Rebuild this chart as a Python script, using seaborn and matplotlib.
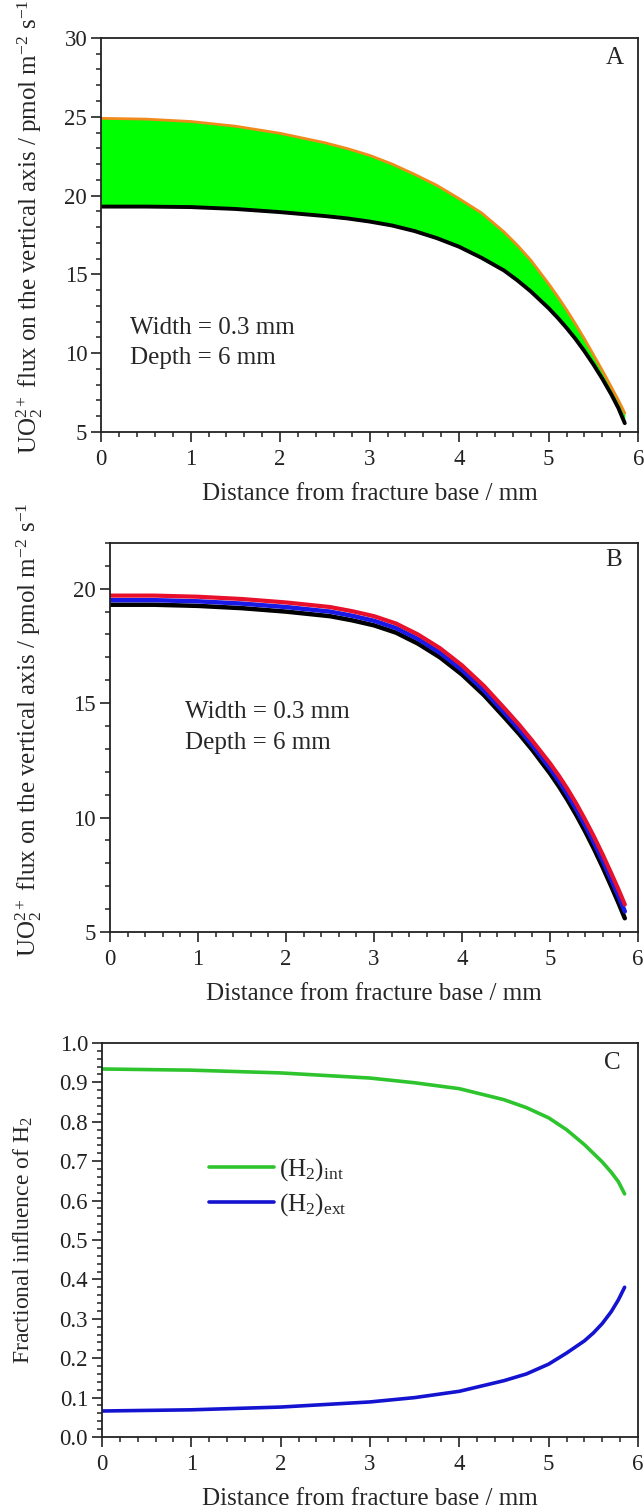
import matplotlib
matplotlib.use('Agg')
import matplotlib.pyplot as plt
import seaborn as sns
from matplotlib.ticker import MultipleLocator, FormatStrFormatter

# distance from fracture base (mm)
dist = [0, 0.5, 1, 1.5, 2, 2.5, 2.75, 3, 3.25, 3.5, 3.75, 4, 4.25, 4.5, 4.65,
        4.8, 5, 5.1, 5.2, 5.3, 5.4, 5.5, 5.6, 5.7, 5.78, 5.85]

# panel A: flux bounds
a_upper = [24.9, 24.85, 24.7, 24.4, 23.95, 23.35, 22.98, 22.55, 22.0, 21.35,
           20.65, 19.8, 18.9, 17.7, 16.85, 15.9, 14.4, 13.6, 12.75, 11.85,
           10.9, 9.9, 8.9, 7.85, 7.0, 6.2]
a_lower = [19.3, 19.3, 19.27, 19.15, 18.95, 18.7, 18.55, 18.35, 18.1, 17.75,
           17.3, 16.75, 16.05, 15.25, 14.62, 13.92, 12.85, 12.25, 11.6, 10.9,
           10.12, 9.28, 8.37, 7.38, 6.5, 5.56]

# panel B: three runs
b_red = [19.7, 19.7, 19.65, 19.55, 19.4, 19.2, 19.02, 18.8, 18.48, 18.0, 17.4,
         16.65, 15.75, 14.7, 14.05, 13.35, 12.37, 11.83, 11.24, 10.6, 9.9,
         9.16, 8.37, 7.53, 6.84, 6.2]
b_blue = [19.5, 19.5, 19.45, 19.35, 19.2, 19.0, 18.82, 18.6, 18.28, 17.8, 17.2,
          16.45, 15.55, 14.5, 13.85, 13.15, 12.15, 11.6, 11.0, 10.35, 9.65,
          8.9, 8.1, 7.25, 6.55, 5.9]
b_black = [19.3, 19.3, 19.25, 19.15, 19.0, 18.8, 18.62, 18.4, 18.08, 17.6, 17.0,
           16.25, 15.35, 14.3, 13.65, 12.95, 11.93, 11.37, 10.76, 10.1, 9.39,
           8.63, 7.82, 6.96, 6.25, 5.6]

# panel C: fractional influence of H2
c_dist = [0, 1, 2, 3, 3.5, 4, 4.5, 4.75, 5, 5.2, 5.4, 5.5, 5.6, 5.7, 5.78, 5.85]
c_int = [0.934, 0.931, 0.924, 0.911, 0.899, 0.884, 0.856, 0.836, 0.81, 0.78,
         0.742, 0.72, 0.698, 0.672, 0.648, 0.617]
c_ext = [0.066, 0.069, 0.076, 0.089, 0.100, 0.116, 0.143, 0.160, 0.185, 0.213,
         0.244, 0.264, 0.288, 0.318, 0.348, 0.38]

sns.set_style('ticks')
plt.rcParams['font.family'] = ['Liberation Serif', 'DejaVu Serif']
plt.rcParams['mathtext.fontset'] = 'custom'
plt.rcParams['mathtext.rm'] = 'Liberation Serif'
plt.rcParams['mathtext.it'] = 'Liberation Serif:italic'
plt.rcParams['mathtext.bf'] = 'Liberation Serif:bold'

TICK_FS = 16.5
LAB_FS = 18
flux_label = r'UO$_2^{2+}$ flux on the vertical axis / pmol m$^{-2}$ s$^{-1}$'
dist_label = 'Distance from fracture base / mm'

fig = plt.figure(figsize=(6.44, 15.12), dpi=100)
axA = fig.add_axes([0.157, 0.7143, 0.834, 0.2606])
axB = fig.add_axes([0.1708, 0.3836, 0.8199, 0.2573])
axC = fig.add_axes([0.1584, 0.0496, 0.8323, 0.2606])


def style(ax, ymin, ymax, ymaj, ymin_step, fmt):
    ax.set_xlim(0, 6)
    ax.set_ylim(ymin, ymax)
    ax.xaxis.set_major_locator(MultipleLocator(1))
    ax.xaxis.set_minor_locator(MultipleLocator(0.2))
    ax.yaxis.set_major_locator(MultipleLocator(ymaj))
    ax.yaxis.set_minor_locator(MultipleLocator(ymin_step))
    ax.yaxis.set_major_formatter(FormatStrFormatter(fmt))
    ax.tick_params(which='major', direction='out', length=7, width=1.2,
                   labelsize=TICK_FS, pad=3, colors='#222222')
    ax.tick_params(which='minor', direction='out', length=3.5, width=1.1,
                   colors='#222222')
    ax.tick_params(axis='x', which='major', pad=5)
    for s in ax.spines.values():
        s.set_visible(True)
        s.set_linewidth(1.3)
        s.set_color('#222222')
    ax.set_xlabel(dist_label, fontsize=LAB_FS)
    ax.xaxis.set_label_coords(0.5, -0.13)


# ---- A ----
axA.fill_between(dist, a_lower, a_upper, color='#00ff00', linewidth=0)
sns.lineplot(x=dist, y=a_upper, ax=axA, color='#f08a1c', linewidth=2.0)
sns.lineplot(x=dist, y=a_lower, ax=axA, color='black', linewidth=2.8)
style(axA, 5, 30, 5, 1, '%d')
axA.set_ylabel(flux_label, fontsize=LAB_FS)
axA.yaxis.set_label_coords(-0.105, 0.52)
axA.text(0.32, 11.6, 'Width = 0.3 mm', fontsize=LAB_FS, va='center')
axA.text(0.32, 9.7, 'Depth = 6 mm', fontsize=LAB_FS, va='center')
axA.text(0.957, 0.949, 'A', transform=axA.transAxes, fontsize=LAB_FS,
         ha='center', va='center')

# ---- B ----
sns.lineplot(x=dist, y=b_black, ax=axB, color='black', linewidth=3.2)
sns.lineplot(x=dist, y=b_blue, ax=axB, color='#1a1ae6', linewidth=3.2)
sns.lineplot(x=dist, y=b_red, ax=axB, color='#e8102a', linewidth=3.0)
style(axB, 5, 22, 5, 1, '%d')
axB.set_ylabel(flux_label, fontsize=LAB_FS)
axB.yaxis.set_label_coords(-0.125, 0.52)
axB.text(0.85, 14.6, 'Width = 0.3 mm', fontsize=LAB_FS, va='center')
axB.text(0.85, 13.27, 'Depth = 6 mm', fontsize=LAB_FS, va='center')
axB.text(0.953, 0.957, 'B', transform=axB.transAxes, fontsize=LAB_FS,
         ha='center', va='center')

# ---- C ----
sns.lineplot(x=c_dist, y=c_int, ax=axC, color='#2ec42e', linewidth=2.6,
             label=r'(H$_2$)$_{\mathrm{int}}$')
sns.lineplot(x=c_dist, y=c_ext, ax=axC, color='#1414d0', linewidth=2.6,
             label=r'(H$_2$)$_{\mathrm{ext}}$')
style(axC, 0, 1.0, 0.1, 0.02, '%.1f')
axC.set_ylabel(r'Fractional influence of H$_2$', fontsize=17)
axC.yaxis.set_label_coords(-0.125, 0.5)
axC.legend(loc='center left', bbox_to_anchor=(0.2, 0.634), frameon=False,
           fontsize=LAB_FS, handlelength=2.6, handletextpad=0.2,
           borderpad=0, borderaxespad=0, labelspacing=0.35)
axC.text(0.952, 0.949, 'C', transform=axC.transAxes, fontsize=LAB_FS,
         ha='center', va='center')

fig.savefig('out.png', dpi=100, facecolor='white')
